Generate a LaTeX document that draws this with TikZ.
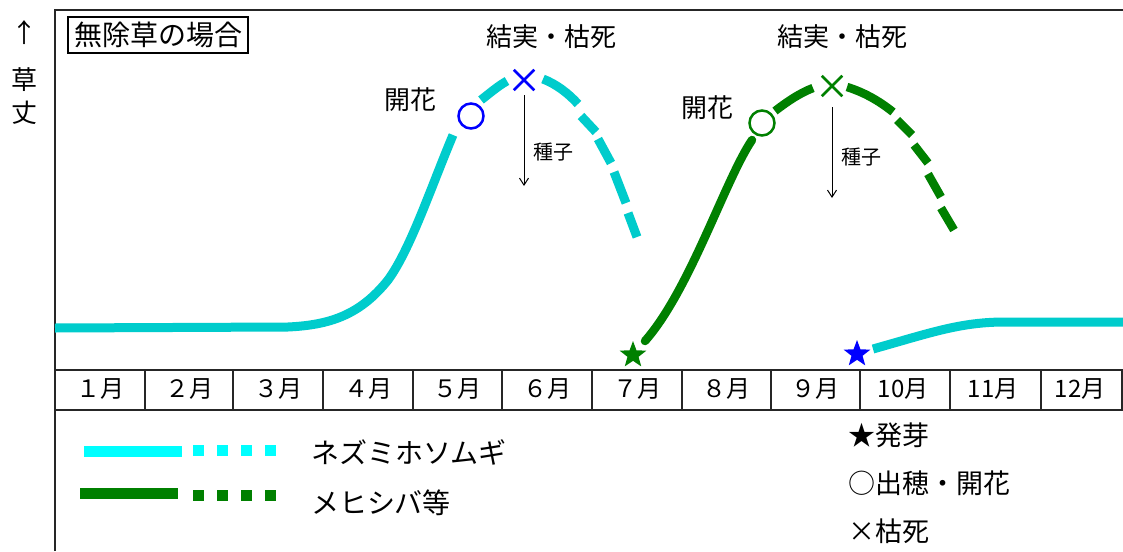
\documentclass[tikz,border=0pt]{standalone}
\usepackage{fontspec}
\setmainfont{Noto Sans CJK JP}
\usetikzlibrary{shapes.geometric,shapes.misc,arrows.meta}
\definecolor{cyanC}{RGB}{0,204,204}
\definecolor{cyanL}{RGB}{0,255,255}
\definecolor{grnC}{RGB}{0,128,0}
\definecolor{bluC}{RGB}{0,0,255}
\newcommand{\fsz}[1]{\fontsize{#1}{#1}\selectfont}
\begin{document}
\begin{tikzpicture}[x=1pt,y=-1pt,
  frameline/.style={line width=1.5pt, black!85},
  cyanln/.style={cyanC, line width=9pt},
  grnln/.style={grnC, line width=8.5pt},
  lbl/.style={inner sep=0pt, font=\fsz{26}},
  seedlbl/.style={inner sep=0pt, font=\fsz{20}},
  monlbl/.style={inner sep=0pt, font=\fsz{24}},
  leglbl/.style={inner sep=0pt, anchor=west, font=\fsz{28}},
  keylbl/.style={inner sep=0pt, anchor=west, font=\fsz{27}},
  starmark/.style={star, star points=5, star point ratio=2.4, fill=#1, draw=none, minimum size=28pt, inner sep=0pt},
  ringmark/.style={circle, draw=#1, line width=2.5pt, minimum size=25pt, inner sep=0pt},
  xmark/.style={cross out, draw=#1, line width=2.5pt, minimum size=18pt, inner sep=0pt},
  seedarrow/.style={line width=1pt, -{Straight Barb[length=7pt,width=9pt]}},
  legsq/.style={fill=#1, minimum size=11pt, inner sep=0pt, draw=none}
]
\useasboundingbox[fill=white] (0,0) rectangle (1123,551);

% frame
\draw[frameline] (55,551) -- (55,10) -- (1123,10);
\draw[frameline] (55,370) -- (1123,370);
\draw[frameline] (55,410) -- (1123,410);
\foreach \x in {145,233,323,413,502,592,682,771,860,950,1041,1122}
  \draw[frameline] (\x,370) -- (\x,410);

% month labels
\node[monlbl] (m1) at (100,389) {１月};
\node[monlbl] (m2) at (189,389) {２月};
\node[monlbl] (m3) at (278,389) {３月};
\node[monlbl] (m4) at (368,389) {４月};
\node[monlbl] (m5) at (457,389) {５月};
\node[monlbl] (m6) at (547,389) {６月};
\node[monlbl] (m7) at (637,389) {７月};
\node[monlbl] (m8) at (726,389) {８月};
\node[monlbl] (m9) at (815,389) {９月};
\node[monlbl] (m10) at (903,389) {10月};
\node[monlbl] (m11) at (993,389) {11月};
\node[monlbl] (m12) at (1080,389) {12月};

% axis label
\node[lbl] (up) at (25,33) {↑};
\node[lbl] (k1) at (25,80) {草};
\node[lbl] (k2) at (25,113) {丈};

% title box
\node[draw, line width=1.2pt, inner sep=0pt, minimum width=180pt, minimum height=36pt, font=\fsz{28}] (title) at (158,35) {無除草の場合};

% cyan curve (first year)
\draw[cyanln] (55,328) -- (288,327) .. controls (330,325) and (360,315) .. (388,280)
  .. controls (410,250) and (430,190) .. (453,135);
\draw[cyanln] (481,100) .. controls (490,93) and (498,86) .. (507,81);
\draw[cyanln] (543,79) .. controls (556,84) and (568,93) .. (578,104);
\draw[cyanln] (581,116) -- (596,132);
\draw[cyanln] (598,139) -- (611,163);
\draw[cyanln] (614,172) -- (626,203);
\draw[cyanln] (628,213) -- (637,237);
\node[ringmark=bluC] (cflower) at (471,116) {};
\node[xmark=bluC] (cdeath) at (524,80) {};

% green curve
\draw[grnln, line cap=round] (645,341) .. controls (690,290) and (725,180) .. (752,140);
\draw[grnln] (775,111) .. controls (788,101) and (800,93) .. (813,88);
\draw[grnln] (847,87) .. controls (863,92) and (878,100) .. (893,112);
\draw[grnln] (897,120) -- (912,135);
\draw[grnln] (914,145) -- (928,163);
\draw[grnln] (928,174) -- (941,197);
\draw[grnln] (941,208) -- (954,230);
\node[starmark=grnC] (gstart) at (633,355) {};
\node[ringmark=grnC] (gflower) at (762,123) {};
\node[xmark=grnC] (gdeath) at (832,86) {};

% cyan curve (germination in autumn)
\draw[cyanln] (873,349) .. controls (930,333) and (960,322) .. (1005,322) -- (1123,322);
\node[starmark=bluC] (cstart) at (857,354) {};

% labels on curves
\node[lbl] (cfl) at (410,100) {開花};
\node[lbl] (cfr) at (551,37) {結実・枯死};
\node[lbl] (gfl) at (707,108) {開花};
\node[lbl] (gfr) at (842,37) {結実・枯死};

% seed arrows
\coordinate (cs1) at (524,95);
\coordinate (cs2) at (524,186);
\draw[seedarrow] (cs1) -- (cs2);
\node[seedlbl] (cseed) at (553,152) {種子};
\coordinate (gs1) at (832,107);
\coordinate (gs2) at (832,198);
\draw[seedarrow] (gs1) -- (gs2);
\node[seedlbl] (gseed) at (861,157) {種子};

% legend (lines)
\draw[cyanL, line width=11pt] (84,451) -- (182,451);
\foreach \x in {198,222,246,270} \node[legsq=cyanL] at (\x,450) {};
\draw[grnC, line width=11pt] (80,493) -- (178,493);
\foreach \x in {198,222,246,270} \node[legsq=grnC] at (\x,495) {};
\node[leglbl] (lg1) at (311,452) {ネズミホソムギ};
\node[leglbl] (lg2) at (311,503) {メヒシバ等};

% legend (marks)
\node[keylbl] (key1) at (848,435) {★発芽};
\node[keylbl] (key2) at (848,483) {○出穂・開花};
\node[keylbl] (key3) at (848,531) {×枯死};
\end{tikzpicture}
\end{document}
